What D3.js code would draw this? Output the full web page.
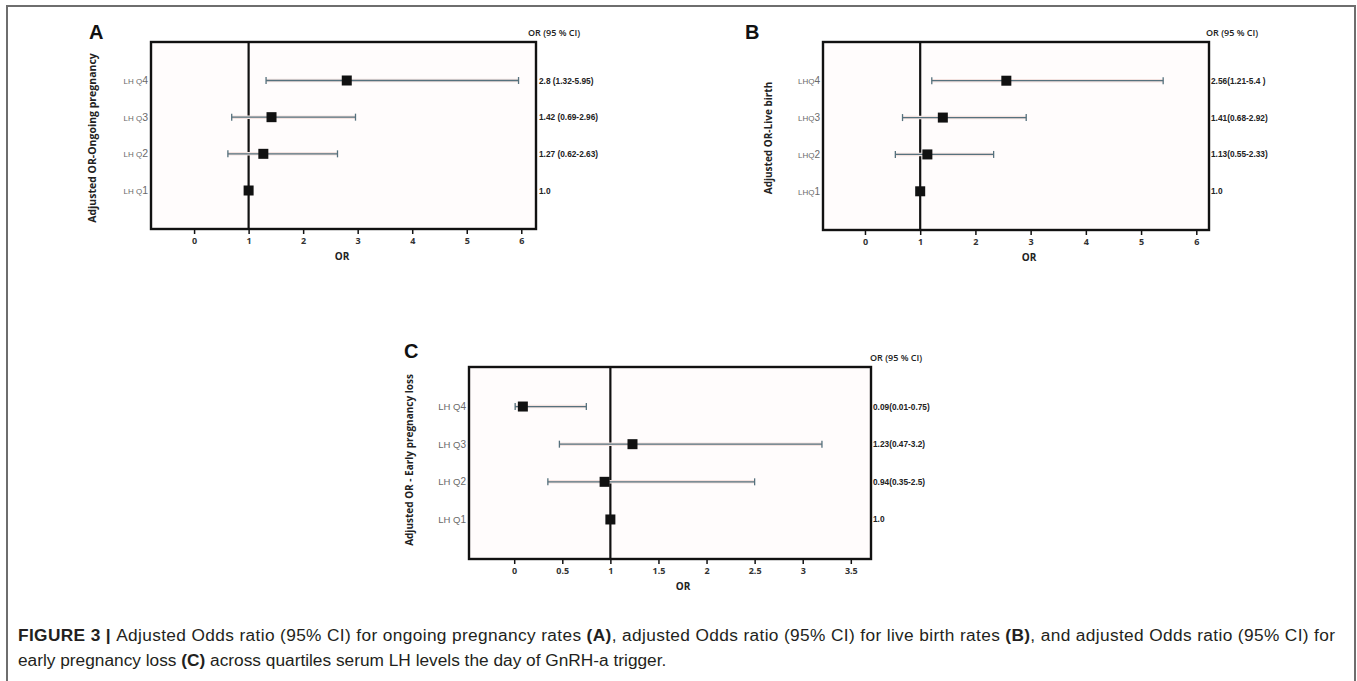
<!DOCTYPE html>
<html>
<head>
<meta charset="utf-8">
<script src="https://cdnjs.cloudflare.com/ajax/libs/d3/7.8.5/d3.min.js"></script>
<style>
  body { margin: 0; background: #fff; }
  svg { display: block; }
</style>
</head>
<body>
<svg id="fig" width="1357" height="681"></svg>
<script>
// quartile rows, bottom to top
var quartiles = ['1', '2', '3', '4'];

// A - ongoing pregnancy
var orA = [1.0, 1.27, 1.42, 2.8];
var loA = [null, 0.62, 0.69, 1.32];
var hiA = [null, 2.63, 2.96, 5.95];
var txtA = ['1.0', '1.27 (0.62-2.63)', '1.42 (0.69-2.96)', '2.8 (1.32-5.95)'];

// B - live birth
var orB = [1.0, 1.13, 1.41, 2.56];
var loB = [null, 0.55, 0.68, 1.21];
var hiB = [null, 2.33, 2.92, 5.4];
var txtB = ['1.0', '1.13(0.55-2.33)', '1.41(0.68-2.92)', '2.56(1.21-5.4 )'];

// C - early pregnancy loss
var orC = [1.0, 0.94, 1.23, 0.09];
var loC = [null, 0.35, 0.47, 0.01];
var hiC = [null, 2.5, 3.2, 0.75];
var txtC = ['1.0', '0.94(0.35-2.5)', '1.23(0.47-3.2)', '0.09(0.01-0.75)'];

var ticksAB = [0, 1, 2, 3, 4, 5, 6];
var ticksC = [0, 0.5, 1, 1.5, 2, 2.5, 3, 3.5];

var svg = d3.select('#fig');
var sans = '"Liberation Sans", Arial, sans-serif';
var open = '"Open Sans", sans-serif';
var bar = '#56717d';

// outer figure frame
svg.append('path')
  .attr('d', 'M7,690 V6 H1355 V690')
  .attr('fill', 'none')
  .attr('stroke', '#6e6e6e')
  .attr('stroke-width', 2);

function drawPanel(p) {
  var g = svg.append('g');
  var x = d3.scaleLinear().domain(p.xdom).range([p.x0, p.x1]);
  var y = d3.scalePoint().domain(quartiles).range([p.y1, p.y0]).padding(1.05);

  var rows = quartiles.map(function(q, i) {
    return {q: q, or: p.or[i], lo: p.lo[i], hi: p.hi[i], txt: p.txt[i]};
  });

  g.append('rect')
    .attr('x', p.x0).attr('y', p.y0)
    .attr('width', p.x1 - p.x0).attr('height', p.y1 - p.y0)
    .attr('fill', '#fffcfc');

  // x axis ticks + labels
  var ax = g.append('g')
    .attr('transform', 'translate(0,' + p.y1 + ')')
    .call(d3.axisBottom(x).tickValues(p.ticks).tickSize(5).tickPadding(4)
      .tickFormat(d3.format('')));
  ax.select('.domain').remove();
  ax.selectAll('line').attr('stroke', '#111').attr('stroke-width', 1.5);
  ax.selectAll('text')
    .attr('font-family', open)
    .attr('font-weight', 'bold')
    .attr('font-size', 9)
    .attr('fill', '#333');

  // reference line at OR = 1
  g.append('line')
    .attr('x1', x(1)).attr('x2', x(1))
    .attr('y1', p.y0).attr('y2', p.y1)
    .attr('stroke', '#111').attr('stroke-width', 2.2);

  var ci = rows.filter(function(d) { return d.lo != null; });

  // faint halo under the whiskers (jpeg look)
  g.selectAll('.halo').data(ci).enter().append('line')
    .attr('x1', function(d) { return x(d.lo); })
    .attr('x2', function(d) { return x(d.hi); })
    .attr('y1', function(d) { return y(d.q); })
    .attr('y2', function(d) { return y(d.q); })
    .attr('stroke', '#f3e2df').attr('stroke-width', 3.5);

  g.selectAll('.ci').data(ci).enter().append('line')
    .attr('x1', function(d) { return x(d.lo); })
    .attr('x2', function(d) { return x(d.hi); })
    .attr('y1', function(d) { return y(d.q); })
    .attr('y2', function(d) { return y(d.q); })
    .attr('stroke', bar).attr('stroke-width', 1.3);

  ['lo', 'hi'].forEach(function(k) {
    g.selectAll('.cap' + k).data(ci).enter().append('line')
      .attr('x1', function(d) { return x(d[k]); })
      .attr('x2', function(d) { return x(d[k]); })
      .attr('y1', function(d) { return y(d.q) - 3.5; })
      .attr('y2', function(d) { return y(d.q) + 3.5; })
      .attr('stroke', bar).attr('stroke-width', 1.3);
  });

  // point estimates
  g.selectAll('.pt').data(rows).enter().append('rect')
    .attr('x', function(d) { return x(d.or) - 5; })
    .attr('y', function(d) { return y(d.q) - 5; })
    .attr('width', 10).attr('height', 10)
    .attr('fill', '#111');

  // row labels
  var lab = g.selectAll('.lab').data(rows).enter().append('text')
    .attr('x', p.x0 - 3)
    .attr('y', function(d) { return y(d.q) + 3.5; })
    .attr('text-anchor', 'end')
    .attr('font-family', sans)
    .attr('fill', '#6a6a6a');
  lab.append('tspan').attr('font-size', p.labSize).text(p.labPrefix);
  lab.append('tspan').attr('font-size', p.digitSize).text(function(d) { return d.q; });

  // OR (95% CI) column
  g.selectAll('.val').data(rows).enter().append('text')
    .attr('x', p.x1 + p.valDx)
    .attr('y', function(d) { return y(d.q) + 3; })
    .attr('font-family', sans)
    .attr('font-weight', 'bold')
    .attr('font-size', 8.3)
    .attr('fill', '#222')
    .text(function(d) { return d.txt; });

  g.append('text')
    .attr('x', p.x1 + p.headDx).attr('y', p.y0 - 6)
    .attr('font-family', open)
    .attr('font-weight', 600)
    .attr('font-size', 9)
    .attr('fill', '#222')
    .text('OR (95 % CI)');

  // frame
  g.append('rect')
    .attr('x', p.x0).attr('y', p.y0)
    .attr('width', p.x1 - p.x0).attr('height', p.y1 - p.y0)
    .attr('fill', 'none')
    .attr('stroke', '#111').attr('stroke-width', 2.4);

  g.append('text')
    .attr('x', p.orX).attr('y', p.y1 + 31)
    .attr('text-anchor', 'middle')
    .attr('font-family', open)
    .attr('font-weight', 'bold')
    .attr('font-size', 10)
    .attr('fill', '#222')
    .text('OR');

  g.append('text')
    .attr('transform', 'translate(' + p.ytX + ',' + p.ytY + ') rotate(-90)')
    .attr('text-anchor', 'middle')
    .attr('font-family', open)
    .attr('font-weight', 'bold')
    .attr('font-size', p.ytSize)
    .attr('fill', '#222')
    .text(p.ytitle);

  g.append('text')
    .attr('x', p.letterX).attr('y', p.letterY)
    .attr('font-family', sans)
    .attr('font-weight', 'bold')
    .attr('font-size', 20)
    .attr('fill', '#111')
    .text(p.letter);
}

drawPanel({
  letter: 'A', letterX: 89, letterY: 39, x0: 151, x1: 536, y0: 42, y1: 229,
  xdom: [-0.79, 6.27], ticks: ticksAB,
  or: orA, lo: loA, hi: hiA, txt: txtA,
  labPrefix: 'LH Q', labSize: 8, digitSize: 10.5,
  valDx: 3, headDx: -8, orX: 342,
  ytitle: 'Adjusted OR-Ongoing pregnancy', ytX: 96, ytY: 138, ytSize: 10.5
});

drawPanel({
  letter: 'B', letterX: 745, letterY: 39, x0: 823, x1: 1209, y0: 42, y1: 230,
  xdom: [-0.76, 6.23], ticks: ticksAB,
  or: orB, lo: loB, hi: hiB, txt: txtB,
  labPrefix: 'LHQ', labSize: 8, digitSize: 10,
  valDx: 2, headDx: -3, orX: 1029,
  ytitle: 'Adjusted OR-Live birth', ytX: 772, ytY: 138, ytSize: 10
});

drawPanel({
  letter: 'C', letterX: 404, letterY: 358, x0: 469, x1: 871, y0: 367, y1: 559,
  xdom: [-0.47, 3.71], ticks: ticksC,
  or: orC, lo: loC, hi: hiC, txt: txtC,
  labPrefix: 'LH Q', labSize: 9.5, digitSize: 10,
  valDx: 2, headDx: -1, orX: 683,
  ytitle: 'Adjusted OR - Early pregnancy loss', ytX: 413, ytY: 460, ytSize: 10
});

// caption
var cap = [
  [['FIGURE 3 | ', 'b'], ['Adjusted Odds ratio (95% CI) for ongoing pregnancy rates '], ['(A)', 'b'],
   [', adjusted Odds ratio (95% CI) for live birth rates '], ['(B)', 'b'],
   [', and adjusted Odds ratio (95% CI) for']],
  [['early pregnancy loss '], ['(C)', 'b'], [' across quartiles serum LH levels the day of GnRH-a trigger.']]
];
cap.forEach(function(line, i) {
  var t = svg.append('text')
    .attr('x', 18).attr('y', 641 + i * 25)
    .attr('font-family', sans)
    .attr('font-size', 17.3)
    .attr('fill', '#231f20');
  if (i === 0) t.attr('textLength', 1317).attr('lengthAdjust', 'spacing');
  line.forEach(function(s) {
    t.append('tspan').attr('font-weight', s[1] ? 'bold' : 'normal').text(s[0]);
  });
});
</script>
</body>
</html>
